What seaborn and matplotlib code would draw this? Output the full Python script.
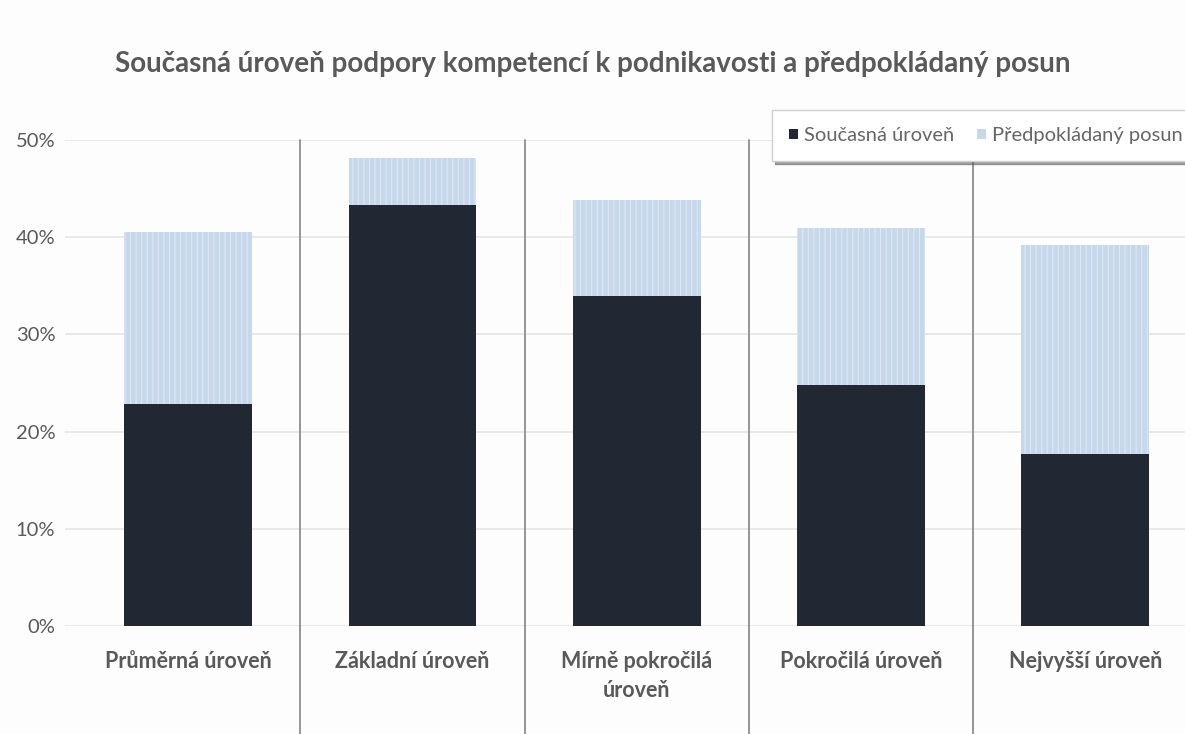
import matplotlib
matplotlib.use("Agg")
import matplotlib.pyplot as plt
import matplotlib.transforms as mtransforms
from matplotlib.patches import Patch
import seaborn as sns
import pandas as pd

# Categories (competence levels) and their values in percent
categories = ["Průměrná úroveň", "Základní úroveň", "Mírně pokročilá\núroveň",
              "Pokročilá úroveň", "Nejvyšší úroveň"]
current_level = [22.8, 43.3, 34.0, 24.8, 17.7]
expected_shift = [17.7, 4.8, 9.8, 16.1, 21.5]
y_ticks = [0, 10, 20, 30, 40, 50]
y_tick_labels = ["0%", "10%", "20%", "30%", "40%", "50%"]

title = "Současná úroveň podpory kompetencí k podnikavosti a předpokládaný posun"
series_names = ["Současná úroveň", "Předpokládaný posun"]

DARK = "#212834"
LIGHT = "#c7d8eb"
TEXT = "#595959"
GRID = "#e6e6e6"
SEP = "#8e8e8e"

sns.set_theme(style="white")
plt.rcParams["font.family"] = ["Lato", "DejaVu Sans"]
plt.rcParams["hatch.linewidth"] = 0.8

df = pd.DataFrame({
    "level": categories,
    "current": current_level,
    "total": [c + s for c, s in zip(current_level, expected_shift)],
})

fig = plt.figure(figsize=(11.85, 7.34), dpi=100, facecolor="#fdfdfd")
ax = fig.add_axes([65 / 1185, (734 - 626) / 734, 1 - 65 / 1185, (626 - 140) / 734])
ax.set_facecolor("#fdfdfd")

# Stacked bars: expected shift on top of the current level
sns.barplot(data=df, x="level", y="total", color=LIGHT, width=0.57,
            saturation=1, ax=ax, linewidth=0, edgecolor="#dce7f4",
            hatch="|||", zorder=2)
sns.barplot(data=df, x="level", y="current", color=DARK, width=0.57,
            saturation=1, ax=ax, linewidth=0, zorder=3)

ax.set_xlim(-0.55, 4.445)
ax.set_ylim(0, 50)
ax.set_yticks(y_ticks)
ax.set_yticklabels(y_tick_labels)
ax.set_xlabel("")
ax.set_ylabel("")
ax.yaxis.grid(True, color=GRID, linewidth=1.2, zorder=0)
ax.set_axisbelow(True)
for s in ax.spines.values():
    s.set_visible(False)
ax.tick_params(axis="y", length=0, pad=7, labelsize=14.5, labelcolor=TEXT)
ax.tick_params(axis="x", length=0, pad=18, labelsize=15.5, labelcolor=TEXT)
for lbl in ax.get_xticklabels():
    lbl.set_fontweight("bold")
    lbl.set_linespacing(1.45)

# Vertical separators between categories, running down through the label area
trans = mtransforms.blended_transform_factory(ax.transData, ax.transAxes)
for xpos in [0.5, 1.5, 2.5, 3.5]:
    ax.plot([xpos, xpos], [1.0, -0.23], transform=trans, color=SEP,
            linewidth=1.3, clip_on=False, zorder=1)

fig.text(0.5, 1 - 64 / 734, title, ha="center", va="center",
         fontsize=20, fontweight="bold", color=TEXT)

handles = [Patch(facecolor=DARK, edgecolor="none"),
           Patch(facecolor=LIGHT, edgecolor="none")]
leg = fig.legend(handles, series_names, loc="upper left",
                 bbox_to_anchor=(762 / 1185, 1 - 100 / 734), ncol=2,
                 frameon=True, shadow=True, fancybox=False, fontsize=14.5,
                 handlelength=0.45, handleheight=0.45, handletextpad=0.3,
                 columnspacing=1.1, borderpad=0.85, labelcolor="#666666")
leg.get_frame().set_facecolor("white")
leg.get_frame().set_edgecolor("#d0d0d0")
leg.set_zorder(10)

fig.savefig("out.png", dpi=100, facecolor=fig.get_facecolor())
